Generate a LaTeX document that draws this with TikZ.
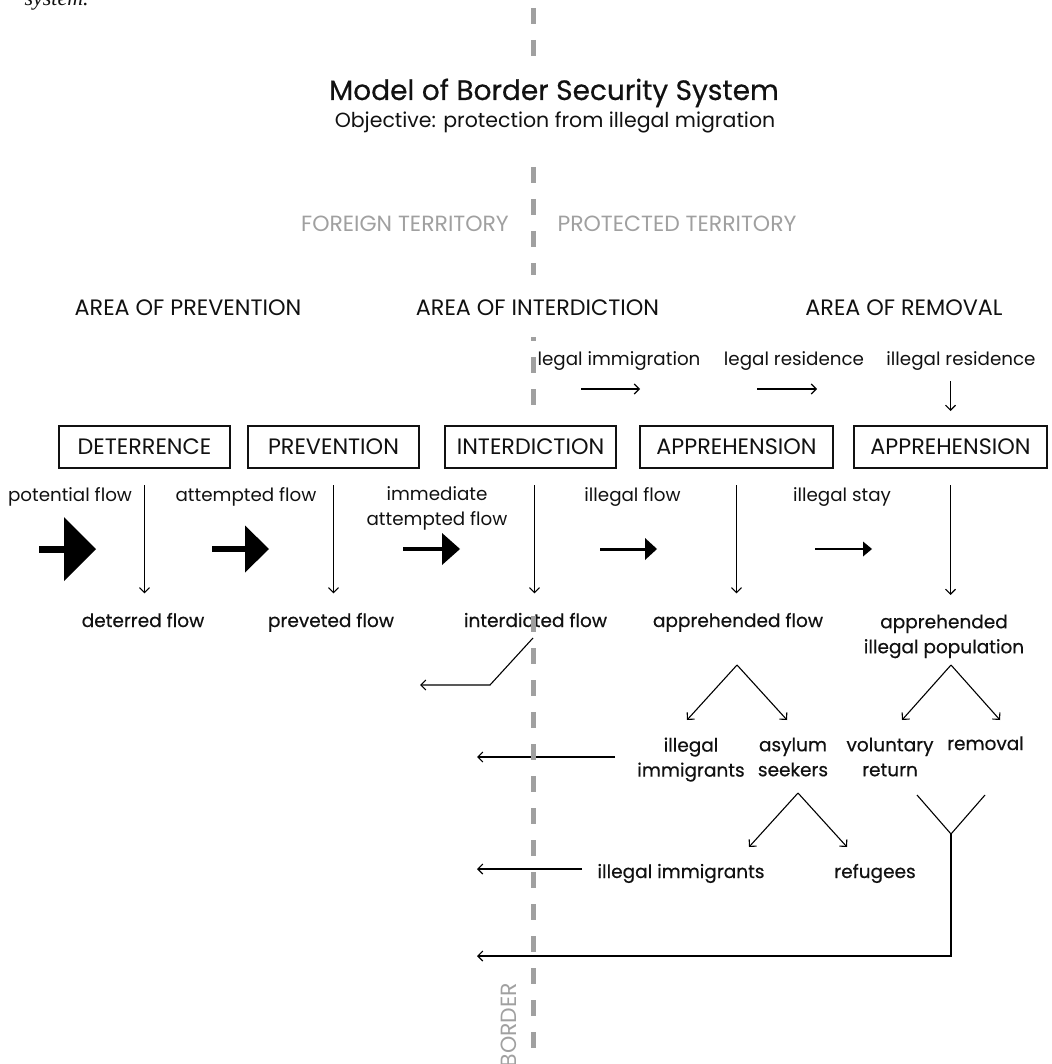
\documentclass[tikz,border=0pt]{standalone}
\usepackage{fontspec}
\setmainfont{Poppins}
\newfontfamily\medfont{Poppins}[FakeBold=0.5]
\newfontfamily\notefont{Liberation Serif}
\usetikzlibrary{arrows.meta,positioning}
\definecolor{bordergray}{HTML}{A0A0A0}
\definecolor{ink}{HTML}{111111}

\begin{document}
\begin{tikzpicture}[% pixel grid of the page, y downwards
      x=1pt,y=-1pt,
      every node/.style={
        align=center,     % "\\" breaks lines
        inner sep=0pt,
        text=ink
      },
      >={Straight Barb[length=5pt,width=10pt]},
      every path/.style={line width=1.1pt},
      headtext/.style={font=\medfont\fontsize{28}{32}\selectfont},
      subtext/.style={font=\fontsize{20.5}{24}\selectfont},
      territory/.style={font=\fontsize{22}{26}\selectfont,text=bordergray},
      areatext/.style={font=\fontsize{22.3}{26}\selectfont},
      stagebox/.style={rectangle,draw=ink,line width=1.2pt,outer sep=0pt,
        minimum height=42pt,minimum width=171pt,font=\fontsize{22.3}{26}\selectfont},
      flowtext/.style={font=\fontsize{18.3}{25}\selectfont},
      resulttext/.style={font=\medfont\fontsize{18.5}{25}\selectfont},
      border/.style={draw=bordergray,line width=5pt,dash pattern=on 16pt off 16pt},
      bigflow/.style n args={3}{line width=#3,
        -{Triangle[length=#1,width=#2,line width=0pt]}}
    ]
    \useasboundingbox (0,0) rectangle (1051,1064);

    % caption tail from the page above
    \node[anchor=base west,font=\notefont\itshape\fontsize{22}{26}\selectfont](captail) at (24,6) {system.};

    % heading
    \node[headtext,anchor=base](title) at (554,100) {Model of Border Security System};
    \node[subtext,anchor=base](subtitle) at (555,128) {Objective: protection from illegal migration};
    \node[territory,anchor=base](foreign) at (405,232) {FOREIGN TERRITORY};
    \node[territory,anchor=base](protected) at (677,232) {PROTECTED TERRITORY};

    % areas
    \node[areatext,anchor=base](areaprev) at (188,315) {AREA OF PREVENTION};
    \node[areatext,anchor=base](areaint) at (537.5,315) {AREA OF INTERDICTION};
    \node[areatext,anchor=base](arearem) at (904,315) {AREA OF REMOVAL};

    \node[flowtext,anchor=base](legalimm) at (619,365) {legal immigration};
    \node[flowtext,anchor=base](legalres) at (794,365) {legal residence};
    \node[flowtext,anchor=base](illegalres) at (961,365) {illegal residence};

    % stages
    \node[stagebox](deter) at (144.5,447) {DETERRENCE};
    \node[stagebox](prevent)[right=18pt of deter] {PREVENTION};
    \node[stagebox](interdict)[right=26pt of prevent] {INTERDICTION};
    \node[stagebox,minimum width=193pt](appreh)[right=24pt of interdict] {APPREHENSION};
    \node[stagebox,minimum width=193pt](apprehres)[right=21pt of appreh] {APPREHENSION};

    % incoming flows
    \node[flowtext,anchor=base](potflow) at (70,501) {potential flow};
    \node[flowtext,anchor=base](attflow) at (246,501) {attempted flow};
    \node[flowtext,anchor=north](immflow) at (437,486) {immediate\\attempted flow};
    \node[flowtext,anchor=base](illflow) at (632.5,501) {illegal flow};
    \node[flowtext,anchor=base](illstay) at (842,501) {illegal stay};

    % results
    \node[resulttext,anchor=base](deterred) at (143,627) {deterred flow};
    \node[resulttext,anchor=base](prevented) at (331,627) {preveted flow};
    \node[resulttext,anchor=base](interdicted) at (535.5,627) {interdicted flow};
    \node[resulttext,anchor=base](apprehended) at (738,627) {apprehended flow};
    \node[resulttext,anchor=north](apprpop) at (944,614) {apprehended\\illegal population};

    \node[resulttext,anchor=north](illimm) at (691,737) {illegal\\immigrants};
    \node[resulttext,anchor=north](asylum) at (793,737) {asylum\\seekers};
    \node[resulttext,anchor=north](volret) at (890,737) {voluntary\\return};
    \node[resulttext,anchor=base](removal) at (985.5,750) {removal};
    \node[resulttext,anchor=base](illimmb) at (681,878) {illegal immigrants};
    \node[resulttext,anchor=base](refugees) at (875,878) {refugees};

    \node[territory,rotate=90](borderlbl) at (509,1025) {BORDER};

    % free ends
    \coordinate (liA) at (581,389);  \coordinate (liB) at (640,389);
    \coordinate (lrA) at (757,389);  \coordinate (lrB) at (817,389);
    \coordinate (fa1) at (39,549);   \coordinate (fb1) at (96,549);
    \coordinate (fa2) at (212,549);  \coordinate (fb2) at (269,549);
    \coordinate (fa3) at (403,549);  \coordinate (fb3) at (460,549);
    \coordinate (fa4) at (600,549);  \coordinate (fb4) at (657,549);
    \coordinate (fa5) at (815,549);  \coordinate (fb5) at (872,549);
    \coordinate (splitA) at (737,665); \coordinate (tipAl) at (687,720); \coordinate (tipAr) at (787,720);
    \coordinate (splitB) at (951,665); \coordinate (tipBl) at (902,720); \coordinate (tipBr) at (1000,720);
    \coordinate (splitC) at (798,793); \coordinate (tipCl) at (749,847); \coordinate (tipCr) at (847,847);
    \coordinate (intA) at (533,638); \coordinate (intB) at (490,685); \coordinate (intC) at (420,685);
    \coordinate (ret1) at (615,757); \coordinate (ret1e) at (477,757);
    \coordinate (ret2) at (582,869); \coordinate (ret2e) at (477,869);
    \coordinate (yl) at (917,795); \coordinate (yr) at (985,795); \coordinate (yj) at (951,834);
    \coordinate (yc) at (951,956); \coordinate (ret3e) at (477,956);

    % arrows
    \draw[->] (liA) -- (liB);
    \draw[->] (lrA) -- (lrB);
    \draw[->,shorten <=11pt,shorten >=15pt] (illegalres.south -| apprehres.north) -- (apprehres.north);

    \draw[bigflow={32pt}{64pt}{7pt}] (fa1) -- (fb1);
    \draw[bigflow={24pt}{47pt}{6pt}] (fa2) -- (fb2);
    \draw[bigflow={18pt}{32pt}{4pt}] (fa3) -- (fb3);
    \draw[bigflow={12pt}{22pt}{3pt}] (fa4) -- (fb4);
    \draw[bigflow={9pt}{15pt}{2pt}] (fa5) -- (fb5);

    \draw[->,shorten <=17pt,shorten >=19pt] (deter.south) -- (deter.south |- deterred.north);
    \draw[->,shorten <=17pt,shorten >=19pt] (prevent.south) -- (prevent.south |- prevented.north);
    \draw[->,shorten <=17pt,shorten >=19pt] ([xshift=4pt]interdict.south) -- ([xshift=4pt]interdict.south |- interdicted.north);
    \draw[->,shorten <=17pt,shorten >=19pt] (appreh.south) -- (appreh.south |- apprehended.north);
    \draw[->,shorten <=17pt,shorten >=19pt] (apprehres.south) -- (apprehres.south |- apprpop.north);

    \draw[->] (splitA) -- (tipAl);
    \draw[->] (splitA) -- (tipAr);
    \draw[->] (splitB) -- (tipBl);
    \draw[->] (splitB) -- (tipBr);
    \draw[->] (splitC) -- (tipCl);
    \draw[->] (splitC) -- (tipCr);

    \draw[->] (intA) -- (intB) -- (intC);
    \draw[->] (ret1) -- (ret1e);
    \draw[->] (ret2) -- (ret2e);
    \draw (yl) -- (yj) -- (yr);
    \draw[->] (yj) -- (yc) -- (ret3e);

    % the border
    \draw[border] (533,8) -- (533,62);
    \draw[border] (533,167) -- (533,275);
    \draw[border,dash phase=12pt] (533,337) -- (533,406);
    \draw[border] (533,616) -- (533,1064);
  \end{tikzpicture}
\end{document}
